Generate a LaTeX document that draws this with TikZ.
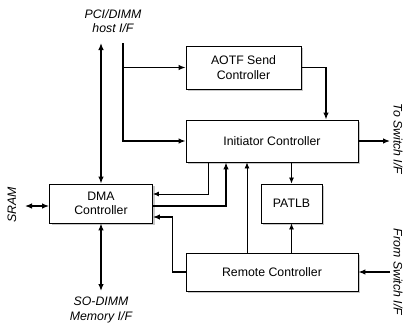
\documentclass[tikz,border=0pt]{standalone}
\usepackage{fontspec}
\setmainfont{Liberation Sans}
\usetikzlibrary{arrows.meta,shadows}
\definecolor{shade}{HTML}{C8C8C8}
\tikzset{
  block/.style={draw,line width=0.9pt,fill=white,align=center,font=\fontsize{12.3}{14.5}\selectfont,
    drop shadow={shadow xshift=2.2pt,shadow yshift=-2.2pt,fill=shade,opacity=1}},
  arrow/.style={-{Latex[length=7pt,width=5.5pt]},line width=1.2pt},
  thinarrow/.style={-{Latex[length=6pt,width=5pt]},line width=0.8pt},
  biarrow/.style={{Latex[length=7pt,width=5.5pt]}-{Latex[length=7pt,width=5.5pt]},line width=1.2pt},
  iflabel/.style={font=\fontsize{12.3}{14.5}\selectfont\itshape,align=center,inner sep=0pt}
}
\begin{document}
\begin{tikzpicture}[x=1pt,y=-1pt]
  \useasboundingbox (0,0) rectangle (405,322);
  % blocks
  \node[block,minimum width=115pt,minimum height=43pt] (aotf) at (243.5,67.5) {AOTF Send\\Controller};
  \node[block,minimum width=172pt,minimum height=42pt] (init) at (272,141) {Initiator Controller};
  \node[block,minimum width=103pt,minimum height=39pt] (dma) at (101,203.5) {DMA\\Controller};
  \node[block,minimum width=61pt,minimum height=39pt] (patlb) at (291.5,203.5) {PATLB};
  \node[block,minimum width=172pt,minimum height=38pt] (remote) at (272,272) {Remote Controller};

  % interface labels
  \node[iflabel] (hostlbl) at (113,21) {PCI/DIMM\\host I/F};
  \node[iflabel] (memlbl) at (101,310) {SO-DIMM\\Memory I/F};
  \node[iflabel,rotate=90] (sramlbl) at (12,205) {SRAM};
  \node[iflabel,rotate=-90] (tolbl) at (398,139) {To Switch I/F};
  \node[iflabel,rotate=-90] (fromlbl) at (398,272) {From Switch I/F};

  \coordinate (hostup) at (101,43);
  \coordinate (hostin) at (123,43);
  \coordinate (tosw) at (390,141);
  \coordinate (fromsw) at (390,272);
  \coordinate (sram) at (25,206);
  \coordinate (memif) at (101,291);

  % connectors
  \draw[biarrow] (hostup) -- (dma.north);
  \draw[arrow] (hostin) |- (aotf.west);
  \draw[arrow] (hostin) |- (init.west);
  \draw[arrow] (aotf.east) -| ([xshift=54pt]init.north);
  \draw[arrow] (init.east) -- (tosw);
  \draw[thinarrow] ([xshift=-64pt]init.south) |- ([yshift=9.5pt]dma.east);
  \draw[arrow] ([yshift=-2.5pt]dma.east) -| ([xshift=-46pt]init.south);
  \draw[thinarrow] ([xshift=-25pt]remote.north) -- ([xshift=-25pt]init.south);
  \draw[thinarrow] (patlb.north |- init.south) -- (patlb.north);
  \draw[thinarrow] (patlb.south |- remote.north) -- (patlb.south);
  \draw[arrow] (remote.west) -- ++(-13,0) |- ([yshift=-13.5pt]dma.east);
  \draw[arrow] (fromsw) -- (remote.east);
  \draw[biarrow] (sram) -- ([yshift=-2.5pt]dma.west);
  \draw[biarrow] (dma.south) -- (memif);
\end{tikzpicture}
\end{document}
